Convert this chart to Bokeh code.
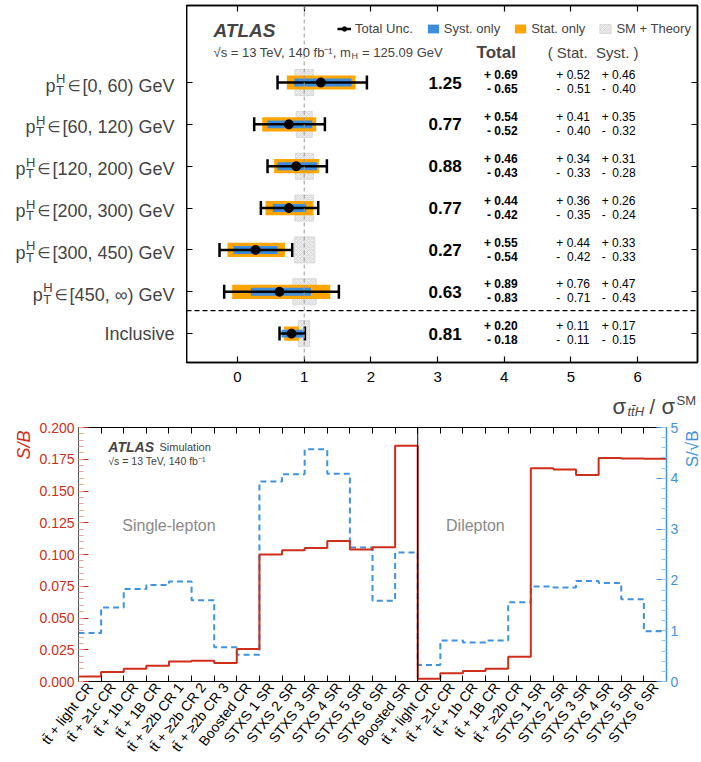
import math
from bokeh.plotting import figure
from bokeh.models import (ColumnDataSource, Range1d, LinearAxis, FixedTicker, Label, Span,
                          Legend, LegendItem, NumeralTickFormatter)
from bokeh.layouts import row
from bokeh.embed import file_html
from bokeh.resources import INLINE
from bokeh.core.properties import value

FONT = "Liberation Sans"
NB = "\u00a0"

# ---------------- data: top panel (signal strength per pT bin) ----------------
row_names = ["[0, 60) GeV", "[60, 120) GeV", "[120, 200) GeV", "[200, 300) GeV",
             "[300, 450) GeV", "[450, \u221e) GeV", "Inclusive"]
mu      = [1.25, 0.77, 0.88, 0.77, 0.27, 0.63, 0.81]
tot_up  = [0.69, 0.54, 0.46, 0.44, 0.55, 0.89, 0.20]
tot_dn  = [0.65, 0.52, 0.43, 0.42, 0.54, 0.83, 0.18]
stat_up = [0.52, 0.41, 0.34, 0.36, 0.44, 0.76, 0.11]
stat_dn = [0.51, 0.40, 0.33, 0.35, 0.42, 0.71, 0.11]
syst_up = [0.46, 0.35, 0.31, 0.26, 0.33, 0.47, 0.17]
syst_dn = [0.40, 0.32, 0.28, 0.24, 0.33, 0.43, 0.15]
theo_lo = [0.86, 0.88, 0.87, 0.86, 0.85, 0.83, 0.91]
theo_hi = [1.14, 1.12, 1.14, 1.14, 1.16, 1.18, 1.08]
top_xticks = [0, 1, 2, 3, 4, 5, 6]

# ---------------- data: bottom panel (S/B and S/sqrt(B) per region) ----------------
TT = "tt\u0304"
sl_labels = [TT + " + light CR", TT + " + \u22651c CR", TT + " + 1b CR", TT + " + 1B CR",
             TT + " + \u22652b CR 1", TT + " + \u22652b CR 2", TT + " + \u22652b CR 3",
             "Boosted CR", "STXS 1 SR", "STXS 2 SR", "STXS 3 SR", "STXS 4 SR",
             "STXS 5 SR", "STXS 6 SR", "Boosted SR"]
dl_labels = [TT + " + light CR", TT + " + \u22651c CR", TT + " + 1b CR", TT + " + 1B CR",
             TT + " + \u22652b CR", "STXS 1 SR", "STXS 2 SR", "STXS 3 SR", "STXS 4 SR",
             "STXS 5 SR", "STXS 6 SR"]
sb_sl  = [0.0039, 0.0075, 0.0101, 0.0125, 0.0158, 0.0164, 0.0145, 0.0255,
          0.1000, 0.1034, 0.1052, 0.1106, 0.1039, 0.1057, 0.1857]
sb_dl  = [0.0021, 0.0065, 0.0083, 0.0101, 0.0195, 0.1680, 0.1670, 0.1626,
          0.1760, 0.1756, 0.1753]
snr_sl = [0.955, 1.455, 1.82, 1.90, 1.97, 1.60, 0.675, 0.526,
          3.935, 4.08, 4.57, 4.09, 2.64, 1.59, 2.54]
snr_dl = [0.325, 0.805, 0.766, 0.805, 1.56, 1.87, 1.85, 1.98, 1.94, 1.62, 0.99]
sb_ticks  = [0.0, 0.025, 0.05, 0.075, 0.1, 0.125, 0.15, 0.175, 0.2]
snr_ticks = [0, 1, 2, 3, 4, 5]

RED = "#cf2e1b"
BLUE = "#3f92e0"
ORANGE = "#ffa500"

# Arial/Liberation Sans advance widths (per 1000 em) for laying out composed labels
AW = {' ': 278, NB: 278, '[': 278, ']': 278, '(': 333, ')': 333, ',': 278, '.': 278, '=': 584,
      '+': 584, '-': 333, '\u221e': 713, '\u221a': 549, '\u207b': 333, '\u00b9': 333,
      'G': 778, 'e': 556, 'V': 667, 'T': 611, 'H': 722, 's': 500, 'f': 278, 'b': 556, 'm': 833}
for d in "0123456789":
    AW[d] = 556


def tw(s, size):
    return sum(AW.get(c, 556) for c in s) * size / 1000.0


def bare(fig):
    fig.grid.visible = False
    fig.outline_line_color = None
    fig.background_fill_alpha = 0
    fig.border_fill_alpha = 0


# ======================= TOP PANEL =======================
TOP_H = 389
TOP_B = 27
p1 = figure(width=515, height=TOP_H, x_range=Range1d(-0.765, 6.897), y_range=Range1d(-0.69, 7.84),
            output_backend="svg", toolbar_location=None,
            min_border_left=0, min_border_right=4, min_border_top=5, min_border_bottom=TOP_B)
p1.grid.visible = False
p1.outline_line_color = "black"
p1.outline_line_width = 1.5

n = len(mu)
ys = [n - 1 - i for i in range(n)]
src = ColumnDataSource(dict(
    y=ys, mu=mu,
    tlo=[m - d for m, d in zip(mu, tot_dn)], thi=[m + u for m, u in zip(mu, tot_up)],
    slo=[m - d for m, d in zip(mu, stat_dn)], shi=[m + u for m, u in zip(mu, stat_up)],
    ylo=[m - d for m, d in zip(mu, syst_dn)], yhi=[m + u for m, u in zip(mu, syst_up)],
    th_lo=theo_lo, th_hi=theo_hi,
    mu_s=["%.2f" % m for m in mu],
    tu=["+" + NB + "%.2f" % v for v in tot_up], td=["-" + NB + "%.2f" % v for v in tot_dn],
    su=["+" + NB + "%.2f" % v for v in stat_up], sd=["-" + NB + NB + "%.2f" % v for v in stat_dn],
    yu=["+" + NB + "%.2f" % v for v in syst_up], yd=["-" + NB + NB + "%.2f" % v for v in syst_dn],
    y_up=[v + 0.175 for v in ys], y_dn=[v - 0.16 for v in ys],
))

gray = p1.hbar(y="y", left="th_lo", right="th_hi", height=0.62, source=src,
               fill_color="#ececec", line_color="#d9d9d9", line_width=1,
               hatch_pattern="x", hatch_color="#cdcdcd", hatch_scale=4, hatch_weight=0.6)
p1.add_layout(Span(location=1, dimension="height", line_color="#9a9a9a", line_dash="4 3", line_width=1))
p1.add_layout(Span(location=0.55, dimension="width", line_color="black", line_dash="5 3", line_width=1.2))
orange = p1.hbar(y="y", left="slo", right="shi", height=0.34, source=src, fill_color=ORANGE, line_color=None)
blue = p1.hbar(y="y", left="ylo", right="yhi", height=0.19, source=src, fill_color="#3d8ddb", line_color=None)
seg = p1.segment(x0="tlo", y0="y", x1="thi", y1="y", source=src, line_color="black", line_width=2.5)
p1.scatter(x="tlo", y="y", source=src, marker="dash", angle=math.pi / 2, size=14,
           line_color="black", line_width=2.5)
p1.scatter(x="thi", y="y", source=src, marker="dash", angle=math.pi / 2, size=14,
           line_color="black", line_width=2.5)
dot = p1.scatter(x="mu", y="y", source=src, size=9, fill_color="black", line_color="black")

# numbers
p1.text(x=3.36, y="y", text="mu_s", source=src, text_align="right", text_baseline="middle",
        text_font=value(FONT), text_font_style="bold", text_font_size="17px")
p1.text(x=4.2, y="y_up", text="tu", source=src, text_align="right", text_baseline="middle",
        text_font=value(FONT), text_font_style="bold", text_font_size="12px")
p1.text(x=4.2, y="y_dn", text="td", source=src, text_align="right", text_baseline="middle",
        text_font=value(FONT), text_font_style="bold", text_font_size="12px")
p1.text(x=4.78, y="y_up", text="su", source=src, text_align="left", text_baseline="middle",
        text_font=value(FONT), text_font_size="12px")
p1.text(x=4.78, y="y_dn", text="sd", source=src, text_align="left", text_baseline="middle",
        text_font=value(FONT), text_font_size="12px")
p1.text(x=5.46, y="y_up", text="yu", source=src, text_align="left", text_baseline="middle",
        text_font=value(FONT), text_font_size="12px")
p1.text(x=5.46, y="y_dn", text="yd", source=src, text_align="left", text_baseline="middle",
        text_font=value(FONT), text_font_size="12px")

# axes
p1.xaxis.ticker = FixedTicker(ticks=top_xticks)
p1.xaxis.major_tick_in = 6
p1.xaxis.major_tick_out = 0
p1.xaxis.minor_tick_line_color = None
p1.xaxis.axis_line_width = 1.5
p1.xaxis.major_tick_line_width = 1.2
p1.xaxis.major_label_text_font = FONT
p1.xaxis.major_label_text_font_size = "15px"
p1.xaxis.major_label_text_color = "black"
p1.xaxis.major_label_standoff = 9

p1.yaxis.ticker = FixedTicker(ticks=ys)
p1.yaxis.major_tick_in = 6
p1.yaxis.major_tick_out = 0
p1.yaxis.minor_tick_line_color = None
p1.yaxis.major_label_text_font_size = "0px"
p1.yaxis.major_label_text_color = None
p1.yaxis.major_label_standoff = 0
p1.yaxis.axis_line_width = 1.5

ax_top = LinearAxis(ticker=FixedTicker(ticks=top_xticks), major_tick_in=6, major_tick_out=0,
                    minor_tick_line_color=None, major_label_text_font_size="0px",
                    major_label_text_color=None,
                    major_label_standoff=0, axis_line_width=1.5, major_tick_line_width=1.2)
p1.add_layout(ax_top, "above")
ax_right = LinearAxis(ticker=FixedTicker(ticks=ys), major_tick_in=6, major_tick_out=0,
                      minor_tick_line_color=None, major_label_text_font_size="0px",
                      major_label_text_color=None,
                      major_label_standoff=0, axis_line_width=1.5)
p1.add_layout(ax_right, "right")

legend = Legend(items=[LegendItem(label="Total Unc.", renderers=[seg, dot]),
                       LegendItem(label="Syst. only", renderers=[blue]),
                       LegendItem(label="Stat. only", renderers=[orange]),
                       LegendItem(label="SM + Theory", renderers=[gray])],
                orientation="horizontal", location=(151, 326), padding=0, margin=0,
                spacing=13, glyph_width=14, glyph_height=11, label_standoff=4, label_height=12,
                label_text_font=FONT, label_text_font_size="13px",
                border_line_color=None, background_fill_alpha=0)
p1.add_layout(legend)

p1.add_layout(Label(x=-0.36, y=7.24, text="ATLAS", text_font=FONT, text_font_style="bold italic",
                    text_font_size="19px", text_baseline="middle", text_align="left"))
part1 = "\u221as = 13 TeV, 140 fb\u207b\u00b9, m"
w1 = tw(part1, 13) - 3
p1.add_layout(Label(x=-0.36, y=6.72, text=part1, text_font=FONT, text_font_size="13px",
                    text_baseline="middle", text_align="left"))
p1.add_layout(Label(x=-0.36, y=6.72, x_offset=w1 + 0.5, y_offset=-4, text="H", text_font=FONT,
                    text_font_size="9px", text_baseline="middle", text_align="left"))
p1.add_layout(Label(x=-0.36, y=6.72, x_offset=w1 + tw("H", 9) + 1, text=NB + "= 125.09 GeV",
                    text_font=FONT, text_font_size="13px", text_baseline="middle", text_align="left"))
p1.add_layout(Label(x=3.88, y=6.72, text="Total", text_font=FONT, text_font_style="bold",
                    text_font_size="17px", text_baseline="middle", text_align="center"))
p1.add_layout(Label(x=4.65, y=6.72, text="( Stat." + NB + NB + "Syst. )", text_font=FONT,
                    text_font_size="15px", text_baseline="middle", text_align="left"))

# ---- row-label strip (left of the top panel, shares its y range) ----
p_lab = figure(width=186, height=TOP_H, x_range=Range1d(0, 186), y_range=p1.y_range,
               x_axis_type=None, y_axis_type=None, output_backend="svg", toolbar_location=None,
               min_border_left=0, min_border_right=0, min_border_top=5, min_border_bottom=TOP_B)
bare(p_lab)
R = 174
for name, yv in zip(row_names, ys):
    if name.startswith("["):
        W1 = tw(name, 18)
        p_lab.add_layout(Label(x=R, y=yv, y_offset=-3, text=name, text_font=FONT,
                               text_font_size="18px", text_align="right", text_baseline="middle"))
        xin = R - W1 - 2
        p_lab.add_layout(Label(x=xin, y=yv, y_offset=-3, text="\u2208",
                               text_font="DejaVu Sans", text_font_size="15px", text_align="right",
                               text_baseline="middle"))
        xht = xin - 0.838 * 15 - tw("H", 13) - 2.5
        p_lab.add_layout(Label(x=xht, y=yv, y_offset=4, text="H", text_font=FONT,
                               text_font_size="13px", text_align="left", text_baseline="middle"))
        p_lab.add_layout(Label(x=xht, y=yv, y_offset=-7.5, text="T", text_font=FONT,
                               text_font_size="13px", text_align="left", text_baseline="middle"))
        p_lab.add_layout(Label(x=xht - 0.5, y=yv, y_offset=-3, text="p", text_font=FONT,
                               text_font_size="18px", text_align="right", text_baseline="middle"))
    else:
        p_lab.add_layout(Label(x=R, y=yv, text=name, text_font=FONT,
                               text_font_size="18px", text_align="right", text_baseline="middle"))

# ---- x-axis title strip: sigma_{ttH} / sigma^{SM} ----
TITLE_H = 30
pt = figure(width=701, height=TITLE_H, x_range=Range1d(0, 701), y_range=Range1d(0, TITLE_H),
            x_axis_type=None, y_axis_type=None, output_backend="svg", toolbar_location=None,
            min_border=0)
bare(pt)
pt.add_layout(Label(x=612, y=13, text="\u03c3", text_font=FONT, text_font_size="22px",
                    text_baseline="middle", text_align="left"))
pt.add_layout(Label(x=627, y=8.5, text=TT + "H", text_font=FONT, text_font_style="italic",
                    text_font_size="13px", text_baseline="middle", text_align="left"))
pt.add_layout(Label(x=649, y=12.5, text="/", text_font=FONT, text_font_size="20px",
                    text_baseline="middle", text_align="left"))
pt.add_layout(Label(x=661, y=13, text="\u03c3", text_font=FONT, text_font_size="22px",
                    text_baseline="middle", text_align="left"))
pt.add_layout(Label(x=676, y=19.5, text="SM", text_font=FONT, text_font_size="13px",
                    text_baseline="middle", text_align="left"))

# ======================= BOTTOM PANEL =======================
labels = sl_labels + dl_labels
sb_all = sb_sl + sb_dl
snr_all = snr_sl + snr_dl
nb = len(labels)
edges = list(range(nb + 1))
centers = [i + 0.5 for i in range(nb)]
BOT_H = 343
BTOP = 8

p2 = figure(width=645, height=BOT_H, x_range=Range1d(0, nb), y_range=Range1d(0, 0.2),
            output_backend="svg", toolbar_location=None,
            min_border_left=41, min_border_right=15, min_border_top=BTOP, min_border_bottom=79)
p2.extra_y_ranges = {"snr": Range1d(0, 5)}
p2.grid.visible = False
p2.outline_line_color = "black"
p2.outline_line_width = 1

p2.step(x=edges, y=snr_all + [snr_all[-1]], mode="after", line_color=BLUE, line_width=2,
        line_dash="6 4", y_range_name="snr")
p2.step(x=edges, y=sb_all + [sb_all[-1]], mode="after", line_color=RED, line_width=2)
p2.add_layout(Span(location=len(sl_labels), dimension="height", line_color="black", line_width=1))

ya = p2.yaxis[0]
ya.ticker = FixedTicker(ticks=sb_ticks, minor_ticks=[i * 0.005 for i in range(41)])
ya.formatter = NumeralTickFormatter(format="0.000")
ya.major_tick_in = 10
ya.major_tick_out = 0
ya.minor_tick_in = 5
ya.minor_tick_out = 0
ya.major_tick_line_color = RED
ya.minor_tick_line_color = "#eaa395"
ya.major_label_text_color = RED
ya.major_label_text_font = FONT
ya.major_label_text_font_size = "14px"
ya.major_label_standoff = 4
ya.axis_line_color = "#555555"

ra = LinearAxis(y_range_name="snr",
                ticker=FixedTicker(ticks=snr_ticks, minor_ticks=[i * 0.2 for i in range(26)]),
                major_tick_in=10, major_tick_out=0, minor_tick_in=5, minor_tick_out=0,
                major_tick_line_color=BLUE, minor_tick_line_color="#9cc8ef",
                major_label_text_color=BLUE, major_label_text_font=FONT,
                major_label_text_font_size="14px", major_label_standoff=4,
                axis_line_color=BLUE, axis_line_width=1.5)
p2.add_layout(ra, "right")

xa = p2.xaxis[0]
xa.ticker = FixedTicker(ticks=centers, minor_ticks=edges)
xa.major_tick_line_color = None
xa.major_tick_in = 0
xa.major_tick_out = 0
xa.minor_tick_in = 6
xa.minor_tick_out = 0
xa.minor_tick_line_color = "black"
xa.major_label_overrides = {c: lab for c, lab in zip(centers, labels)}
xa.major_label_orientation = math.radians(52)
xa.major_label_text_font = FONT
xa.major_label_text_font_size = "14px"
xa.major_label_text_color = "black"
xa.major_label_standoff = 3

ta = LinearAxis(ticker=FixedTicker(ticks=edges), major_tick_in=6, major_tick_out=0,
                minor_tick_line_color=None, major_label_text_font_size="0px",
                major_label_text_color=None, major_label_standoff=0)
p2.add_layout(ta, "above")

p2.add_layout(Label(x=1.32, y=0.185, text="ATLAS", text_font=FONT, text_font_style="bold italic",
                    text_font_size="14px", text_baseline="middle"))
p2.add_layout(Label(x=3.58, y=0.185, text="Simulation", text_font=FONT, text_font_size="11px",
                    text_baseline="middle"))
p2.add_layout(Label(x=1.32, y=0.174, text="\u221as = 13 TeV, 140 fb\u207b\u00b9", text_font=FONT,
                    text_font_size="10.5px", text_baseline="middle"))
p2.add_layout(Label(x=4.0, y=0.123, text="Single-lepton", text_font=FONT, text_font_size="16px",
                    text_color="#8a8a8a", text_align="center", text_baseline="middle"))
p2.add_layout(Label(x=17.55, y=0.123, text="Dilepton", text_font=FONT, text_font_size="16px",
                    text_color="#8a8a8a", text_align="center", text_baseline="middle"))

# axis-title strips beside the bottom panel (share its y range)
p_left = figure(width=36, height=BOT_H, x_range=Range1d(0, 36), y_range=p2.y_range,
                x_axis_type=None, y_axis_type=None, output_backend="svg", toolbar_location=None,
                min_border_left=0, min_border_right=0, min_border_top=BTOP, min_border_bottom=79)
bare(p_left)
p_left.add_layout(Label(x=23.5, y=0.2, y_offset=-3, text="S/B", angle=math.pi / 2, text_font=FONT,
                        text_font_style="italic", text_font_size="18px", text_color=RED,
                        text_align="right", text_baseline="middle"))

p_right = figure(width=20, height=BOT_H, x_range=Range1d(0, 20), y_range=p2.y_range,
                 x_axis_type=None, y_axis_type=None, output_backend="svg", toolbar_location=None,
                 min_border_left=0, min_border_right=0, min_border_top=BTOP, min_border_bottom=79)
bare(p_right)
p_right.add_layout(Label(x=11, y=0.2, y_offset=-3, text="S/\u221aB", angle=math.pi / 2, text_font=FONT,
                         text_font_size="17px", text_color=BLUE,
                         text_align="right", text_baseline="middle"))

top_row = row(p_lab, p1)
bot_row = row(p_left, p2, p_right)
open("out.html", "w").write(file_html([top_row, pt, bot_row], INLINE))
